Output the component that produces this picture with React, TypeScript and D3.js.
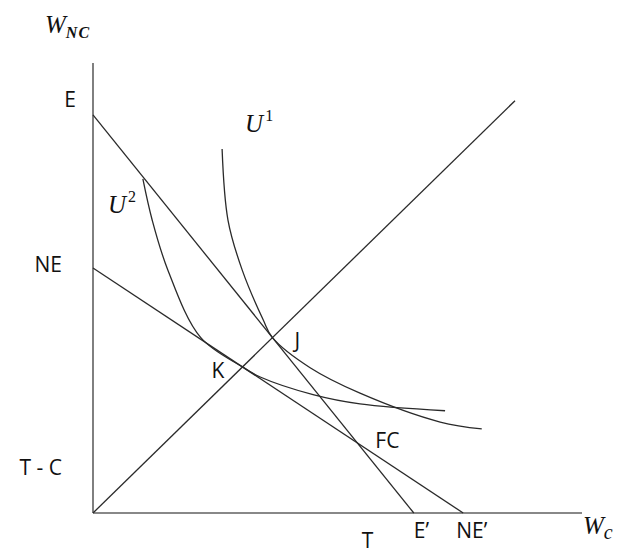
import React, { useEffect, useRef } from 'react';
import * as d3 from 'd3';

// budget line intercepts (W_C, W_NC)
const eIntercept = 81.4;      // E on the W_NC axis
const ePrime = 65.6;          // E' on the W_C axis
const neIntercept = 50.1;     // NE
const nePrime = 75.7;         // NE'
const tcLevel = 9.4;          // T - C
const tLevel = 56.2;          // T
const diagonalEnd: [number, number] = [86.3, 84.3];

// indifference curves
const u1Points: [number, number][] = [
    [26.4, 74.4], [27.6, 59.9], [30.5, 49.7], [34.8, 39.5], [36.7, 35.85],
    [44.4, 29.7], [54.6, 24.5], [71.0, 18.6], [79.5, 17.2],
];
const u2Points: [number, number][] = [
    [10.2, 68.3], [12.1, 59.9], [15.3, 49.7], [22.0, 35.9], [30.57, 29.87],
    [34.2, 27.8], [45.0, 24.2], [54.6, 22.3], [72.0, 20.9],
];

const xMax = 100;
const yMax = 92;

function intersect(a: [number, number, number, number], b: [number, number, number, number]) {
    // lines through (x1,y1)-(x2,y2)
    const [ax1, ay1, ax2, ay2] = a;
    const [bx1, by1, bx2, by2] = b;
    const ma = (ay2 - ay1) / (ax2 - ax1);
    const mb = (by2 - by1) / (bx2 - bx1);
    const x = (by1 - ay1 + ma * ax1 - mb * bx1) / (ma - mb);
    return [x, ay1 + ma * (x - ax1)];
}

function Chart() {
    const svgRef = useRef<SVGSVGElement>(null);

    useEffect(() => {
        if (!svgRef.current) return;
        const svg = d3.select(svgRef.current);
        svg.selectAll('*').remove();

        const x = d3.scaleLinear().domain([0, xMax]).range([93, 582]);
        const y = d3.scaleLinear().domain([0, yMax]).range([513, 63]);

        const lineColor = '#2a2a2a';
        const labelFont = '"Open Sans", sans-serif';
        const mathFont = '"Liberation Serif", serif';

        // axes
        svg.append('line')
            .attr('x1', x(0)).attr('y1', y(0)).attr('x2', x(0)).attr('y2', y(yMax))
            .attr('stroke', '#606060').attr('stroke-width', 1.6);
        svg.append('line')
            .attr('x1', x(0)).attr('y1', y(0)).attr('x2', x(xMax)).attr('y2', y(0))
            .attr('stroke', '#606060').attr('stroke-width', 1.6);

        const eLine: [number, number, number, number] = [0, eIntercept, ePrime, 0];
        const neLine: [number, number, number, number] = [0, neIntercept, nePrime, 0];
        const diag: [number, number, number, number] = [0, 0, diagonalEnd[0], diagonalEnd[1]];

        [eLine, neLine, diag].forEach(l => {
            svg.append('line')
                .attr('x1', x(l[0])).attr('y1', y(l[1]))
                .attr('x2', x(l[2])).attr('y2', y(l[3]))
                .attr('stroke', lineColor).attr('stroke-width', 1.3);
        });

        const curve = d3.line<[number, number]>()
            .x(d => x(d[0]))
            .y(d => y(d[1]))
            .curve(d3.curveCatmullRom.alpha(0.5));

        [u1Points, u2Points].forEach(pts => {
            svg.append('path')
                .attr('d', curve(pts))
                .attr('fill', 'none')
                .attr('stroke', lineColor)
                .attr('stroke-width', 1.3);
        });

        const J = intersect(eLine, diag);
        const K = intersect(neLine, diag);
        const FC = intersect(eLine, neLine);

        const label = (t: string, px: number, py: number, anchor = 'start') =>
            svg.append('text')
                .attr('x', px).attr('y', py)
                .attr('text-anchor', anchor)
                .attr('font-family', labelFont)
                .attr('font-size', 21)
                .attr('fill', '#111')
                .text(t);

        label('E', x(0) - 17, y(eIntercept) - 8, 'end');
        label('NE', x(0) - 31, y(neIntercept) + 4, 'end');
        label('T - C', x(0) - 31, y(tcLevel) + 8, 'end');
        label('E\u2019', x(ePrime), y(0) + 25);
        label('NE\u2019', x(nePrime) - 7, y(0) + 25);
        label('T', x(tLevel) - 6, y(0) + 35);
        label('J', x(J[0]) + 22, y(J[1]) + 10);
        label('K', x(K[0]) - 31, y(K[1]) + 11);
        label('FC', x(FC[0]) + 18, y(FC[1]) + 5);

        // math labels
        const mathLabel = (main: string, sub: string, px: number, py: number,
            supMode: boolean, subSize: number, subBold = false) => {
            const t = svg.append('text')
                .attr('x', px).attr('y', py)
                .attr('font-family', mathFont)
                .attr('fill', '#111');
            t.append('tspan')
                .attr('font-size', 25)
                .attr('font-style', 'italic')
                .text(main);
            t.append('tspan')
                .attr('font-size', subSize)
                .attr('font-style', supMode ? 'normal' : 'italic')
                .attr('font-weight', subBold ? 'bold' : 'normal')
                .attr('letter-spacing', subBold ? 1 : 0)
                .attr('dy', supMode ? -11 : 5)
                .attr('dx', supMode ? 2 : 0)
                .text(sub);
        };

        mathLabel('W', 'NC', 45, 33, false, 16, true);
        mathLabel('W', 'c', 583, 534, false, 20);
        mathLabel('U', '1', x(u1Points[0][0]) + 23, y(u1Points[0][1]) - 17, true, 16);
        mathLabel('U', '2', x(u2Points[0][0]) - 35, y(u2Points[0][1]) + 34, true, 16);
    }, []);

    return (
        <svg ref={svgRef} width={621} height={554}
            style={{ position: 'absolute', left: 0, top: 0, background: '#fff' }} />
    );
}

export default function App() {
    return <Chart />;
}
